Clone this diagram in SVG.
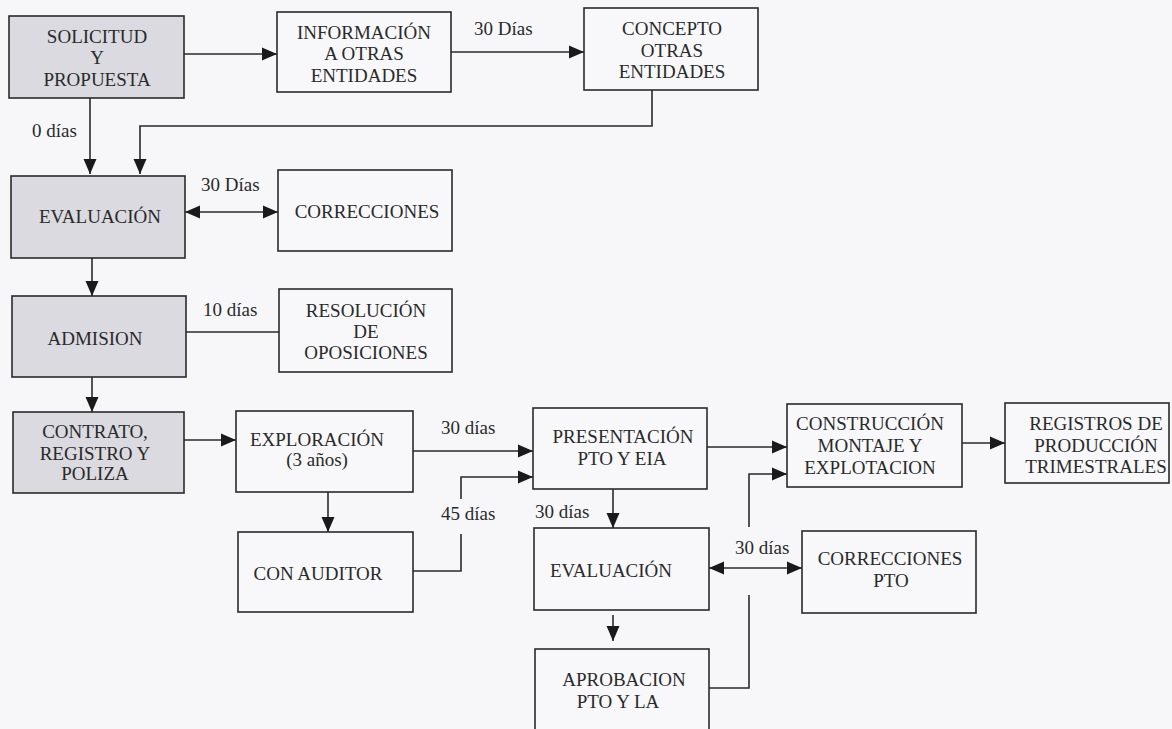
<svg xmlns="http://www.w3.org/2000/svg" width="1172" height="729" viewBox="0 0 1172 729">
<defs>
<style>
.b{fill:#f8f8fa;stroke:#2a2a2a;stroke-width:1.6}
.g{fill:#dadae0;stroke:#2a2a2a;stroke-width:1.6}
text{font-size:19px;fill:#2a2a2a}
.c{text-anchor:middle}
.l{fill:none;stroke:#2a2a2a;stroke-width:1.6}
</style>
<marker id="a" markerUnits="userSpaceOnUse" markerWidth="15" markerHeight="14" viewBox="0 0 15 14" refX="15" refY="7" orient="auto-start-reverse">
<path d="M0,0.5 L15,7 L0,13.5 Z" fill="#1a1a1a"/>
</marker>
</defs>
<rect width="1172" height="729" fill="#f7f7f9"/>
<g font-family="'Liberation Serif', 'Times New Roman', 'DejaVu Serif', serif">
<g id="connectors">
<path class="l" d="M184,54 H277" marker-end="url(#a)"/>
<path class="l" d="M451,52 H584" marker-end="url(#a)"/>
<path class="l" d="M652,90 V126 H140 V174" marker-end="url(#a)"/>
<path class="l" d="M90,98 V174" marker-end="url(#a)"/>
<path class="l" d="M185,212 H278" marker-start="url(#a)" marker-end="url(#a)"/>
<path class="l" d="M92,258 V296" marker-end="url(#a)"/>
<path class="l" d="M186,332 H279"/>
<path class="l" d="M92,377 V412" marker-end="url(#a)"/>
<path class="l" d="M184,440 H236" marker-end="url(#a)"/>
<path class="l" d="M328,492 V532" marker-end="url(#a)"/>
<path class="l" d="M413,451 H533" marker-end="url(#a)"/>
<path class="l" d="M413,571 H461 V534"/>
<path class="l" d="M461,499 V477 H533" marker-end="url(#a)"/>
<path class="l" d="M613,489 V528" marker-end="url(#a)"/>
<path class="l" d="M707,447 H787" marker-end="url(#a)"/>
<path class="l" d="M962,443 H1005" marker-end="url(#a)"/>
<path class="l" d="M709,568 H802" marker-start="url(#a)" marker-end="url(#a)"/>
<path class="l" d="M613,615 V641" marker-end="url(#a)"/>
<path class="l" d="M709,688 H749 V595"/>
<path class="l" d="M749,527 V474 H787" marker-end="url(#a)"/>
<text x="474" y="35">30 Días</text>
<text x="32" y="137">0 días</text>
<text x="201" y="191">30 Días</text>
<text x="203" y="316">10 días</text>
<text x="441" y="434">30 días</text>
<text x="441" y="520">45 días</text>
<text x="535" y="518">30 días</text>
<text x="735" y="554">30 días</text>
</g>
<g id="solicitud"><rect class="g" x="9" y="16" width="175" height="82"/><text class="c" x="97" y="43">SOLICITUD</text><text class="c" x="97" y="64">Y</text><text class="c" x="97" y="86">PROPUESTA</text></g>
<g id="informacion"><rect class="b" x="277" y="12" width="174" height="80"/><text class="c" x="364" y="39">INFORMACIÓN</text><text class="c" x="364" y="60">A OTRAS</text><text class="c" x="364" y="82">ENTIDADES</text></g>
<g id="concepto"><rect class="b" x="584" y="8" width="174" height="82"/><text class="c" x="672" y="35">CONCEPTO</text><text class="c" x="672" y="57">OTRAS</text><text class="c" x="672" y="78">ENTIDADES</text></g>
<g id="evaluacion"><rect class="g" x="11" y="176" width="174" height="82"/><text class="c" x="100" y="223">EVALUACIÓN</text></g>
<g id="correcciones"><rect class="b" x="278" y="170" width="174" height="81"/><text class="c" x="367" y="218">CORRECCIONES</text></g>
<g id="admision"><rect class="g" x="12" y="296" width="174" height="81"/><text class="c" x="95" y="345">ADMISION</text></g>
<g id="resolucion"><rect class="b" x="279" y="289" width="173" height="83"/><text class="c" x="366" y="317">RESOLUCIÓN</text><text class="c" x="366" y="338">DE</text><text class="c" x="366" y="359">OPOSICIONES</text></g>
<g id="contrato"><rect class="g" x="13" y="412" width="171" height="81"/><text class="c" x="95" y="438">CONTRATO,</text><text class="c" x="95" y="460">REGISTRO Y</text><text class="c" x="95" y="480">POLIZA</text></g>
<g id="exploracion"><rect class="b" x="236" y="411" width="177" height="81"/><text class="c" x="317" y="446">EXPLORACIÓN</text><text class="c" x="317" y="466">(3 años)</text></g>
<g id="auditor"><rect class="b" x="238" y="532" width="175" height="80"/><text class="c" x="318" y="580">CON AUDITOR</text></g>
<g id="presentacion"><rect class="b" x="533" y="408" width="174" height="81"/><text class="c" x="623" y="443">PRESENTACIÓN</text><text class="c" x="622" y="465">PTO Y EIA</text></g>
<g id="evaluacion2"><rect class="b" x="534" y="528" width="175" height="82"/><text class="c" x="611" y="577">EVALUACIÓN</text></g>
<g id="aprobacion"><rect class="b" x="535" y="649" width="174" height="86"/><text class="c" x="624" y="686">APROBACION</text><text class="c" x="618" y="708">PTO Y LA</text></g>
<g id="construccion"><rect class="b" x="787" y="404" width="175" height="83"/><text class="c" x="870" y="430">CONSTRUCCIÓN</text><text class="c" x="870" y="452">MONTAJE Y</text><text class="c" x="870" y="474">EXPLOTACION</text></g>
<g id="registros"><rect class="b" x="1005" y="403" width="164" height="80"/><text class="c" x="1096" y="430">REGISTROS DE</text><text class="c" x="1096" y="452">PRODUCCIÓN</text><text class="c" x="1096" y="473">TRIMESTRALES</text></g>
<g id="correccionespto"><rect class="b" x="802" y="531" width="174" height="82"/><text class="c" x="890" y="565">CORRECCIONES</text><text class="c" x="891" y="587">PTO</text></g>
</g>
</svg>
